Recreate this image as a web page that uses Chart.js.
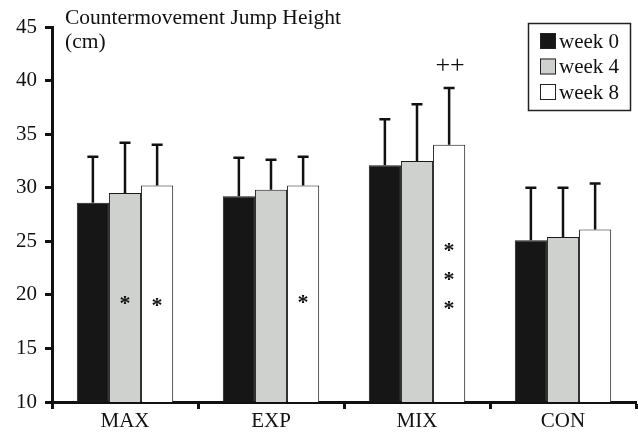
<!DOCTYPE html>
<html lang="en">
  <head>
    <meta charset="UTF-8" />
    <title>Countermovement Jump Height</title>
    <script src="https://cdn.jsdelivr.net/npm/chart.js@4/dist/chart.umd.min.js"></script>
    <style>
      html, body { margin: 0; padding: 0; background: #fff; }
      .wrap { width: 638px; height: 433px; position: relative; }
    </style>
  </head>
  <body>
    <div class="wrap"><canvas id="chart"></canvas></div>

    <script>
      const categories = ["MAX", "EXP", "MIX", "CON"];
      const seriesNames = ["week 0", "week 4", "week 8"];
      const week0 = [28.6, 29.2, 32.1, 25.1];
      const week4 = [29.5, 29.8, 32.5, 25.4];
      const week8 = [30.2, 30.2, 34.0, 26.1];
      // upper error bar (SD)
      const sd0 = [4.3, 3.6, 4.3, 4.9];
      const sd4 = [4.7, 2.8, 5.3, 4.6];
      const sd8 = [3.8, 2.7, 5.3, 4.3];
      const yTicks = [10, 15, 20, 25, 30, 35, 40, 45];
      // significance marks: [category index, series index, y value, text]
      const marks = [
        [0, 1, 19.5, "*"],
        [0, 2, 19.3, "*"],
        [1, 2, 19.6, "*"],
        [2, 2, 24.4, "*"],
        [2, 2, 21.7, "*"],
        [2, 2, 19.0, "*"],
        [2, 2, 41.3, "++"],
      ];

      const serif = "'Liberation Serif', 'DejaVu Serif', serif";
      const fills = ["#161616", "#cfd1cf", "#ffffff"];
      const sds = [sd0, sd4, sd8];

      const errorBars = {
        id: "errorBars",
        afterDatasetsDraw(chart) {
          const ctx = chart.ctx;
          const y = chart.scales.y;
          ctx.save();
          ctx.strokeStyle = "#111";
          ctx.lineWidth = 2.5;
          chart.data.datasets.forEach((ds, di) => {
            const meta = chart.getDatasetMeta(di);
            meta.data.forEach((bar, i) => {
              const top = y.getPixelForValue(ds.data[i] + sds[di][i]);
              ctx.beginPath();
              ctx.moveTo(bar.x, bar.y);
              ctx.lineTo(bar.x, top);
              ctx.moveTo(bar.x - 5.5, top);
              ctx.lineTo(bar.x + 5.5, top);
              ctx.stroke();
            });
          });
          // significance marks
          ctx.fillStyle = "#111";
          ctx.textAlign = "center";
          ctx.textBaseline = "middle";
          marks.forEach(([ci, si, v, txt]) => {
            const bar = chart.getDatasetMeta(si).data[ci];
            ctx.font = txt === "*" ? "bold 22px " + serif : "26px " + serif;
            ctx.fillText(txt, bar.x + (txt === "*" ? 0 : 1), y.getPixelForValue(v) + (txt === "*" ? 4 : 0));
          });
          ctx.restore();
        },
      };

      const titleAndLegend = {
        id: "titleAndLegend",
        afterDraw(chart) {
          const ctx = chart.ctx;
          ctx.save();
          ctx.fillStyle = "#111";
          ctx.font = "21.5px " + serif;
          ctx.textAlign = "left";
          ctx.textBaseline = "alphabetic";
          ctx.fillText("Countermovement Jump Height", 65, 24);
          ctx.fillText("(cm)", 65, 48);

          // legend box
          ctx.font = "21px " + serif;
          ctx.strokeStyle = "#222";
          ctx.lineWidth = 1.5;
          ctx.strokeRect(528.5, 23.5, 102, 87);
          ctx.textBaseline = "middle";
          seriesNames.forEach((name, i) => {
            const cy = 41 + i * 25.5;
            ctx.fillStyle = fills[i];
            ctx.fillRect(540, cy - 8, 16, 16);
            ctx.lineWidth = 1;
            ctx.strokeStyle = "#222";
            ctx.strokeRect(540.5, cy - 7.5, 15, 15);
            ctx.fillStyle = "#111";
            ctx.fillText(name, 559, cy + 1);
          });
          ctx.restore();
        },
      };

      new Chart(document.getElementById("chart"), {
        type: "bar",
        data: {
          labels: categories,
          datasets: [week0, week4, week8].map((d, i) => ({
            label: seriesNames[i],
            data: d,
            backgroundColor: fills[i],
            borderColor: "#1a1a1a",
            borderWidth: 1,
            categoryPercentage: 0.66,
            barPercentage: 1,
          })),
        },
        options: {
          responsive: true,
          maintainAspectRatio: false,
          animation: false,
          layout: { padding: { top: 27, right: 2, left: 0, bottom: 0 } },
          plugins: {
            legend: { display: false },
            tooltip: { enabled: false },
          },
          scales: {
            x: {
              grid: {
                display: true,
                drawOnChartArea: false,
                drawTicks: true,
                tickLength: 7,
                tickWidth: 3,
                color: "#111",
              },
              border: { color: "#111", width: 3 },
              ticks: {
                color: "#111",
                font: { family: serif, size: 21 },
                padding: 0,
              },
              afterFit(scale) {
                scale.height = 31;
              },
            },
            y: {
              min: 10,
              max: 45,
              afterBuildTicks(scale) {
                scale.ticks = yTicks.map((v) => ({ value: v }));
              },
              grid: {
                display: true,
                drawOnChartArea: false,
                drawTicks: true,
                tickLength: 7,
                tickWidth: 3,
                color: "#111",
              },
              border: { color: "#111", width: 3 },
              ticks: {
                color: "#111",
                font: { family: serif, size: 21 },
                padding: 8,
              },
              afterFit(scale) {
                scale.width = 52;
              },
            },
          },
        },
        plugins: [errorBars, titleAndLegend],
      });
    </script>
  </body>
</html>
